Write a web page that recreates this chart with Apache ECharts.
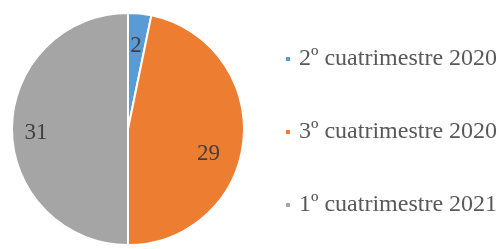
<!DOCTYPE html>
<html><head><meta charset="utf-8">
<script src="https://cdn.jsdelivr.net/npm/echarts@6/dist/echarts.min.js"></script>
<style>html,body{margin:0;padding:0;background:#fff}#c{width:502px;height:249px}</style>
</head><body><div id="c"></div>
<script>
const categories = ['2º cuatrimestre 2020', '3º cuatrimestre 2020', '1º cuatrimestre 2021'];
const values = [2, 29, 31];
const colors = ['#5B9BD5', '#ED7D31', '#A5A5A5'];
const labelShift = [[-1, 5], [-8, 16], [-3, 4]];

const data = categories.map((n, i) => ({ name: n, value: values[i], itemStyle: { color: colors[i] } }));
const chart = echarts.init(document.getElementById('c'), null, { renderer: 'canvas' });
chart.setOption({
  animation: false,
  backgroundColor: '#fff',
  legend: {
    orient: 'vertical',
    left: 279,
    top: 42,
    itemGap: 49,
    icon: 'rect',
    itemWidth: 6,
    itemHeight: 6,
    data: categories,
    textStyle: { fontFamily: 'Liberation Serif', fontSize: 24, color: '#595959', padding: [0, 0, 0, 3] }
  },
  series: [
    {
      type: 'pie',
      center: [128, 129],
      radius: [0, 116],
      startAngle: 90,
      clockwise: true,
      label: { show: false },
      labelLine: { show: false },
      itemStyle: { borderColor: '#fff', borderWidth: 2 },
      emphasis: { disabled: true },
      data: data
    },
    {
      type: 'pie',
      center: [128, 129],
      radius: [0, 172],
      startAngle: 90,
      clockwise: true,
      silent: true,
      itemStyle: { color: 'rgba(0,0,0,0)' },
      label: {
        show: true,
        position: 'inside',
        formatter: '{c}',
        fontFamily: 'Liberation Serif',
        fontSize: 23,
        color: '#404040'
      },
      labelLine: { show: false },
      emphasis: { disabled: true },
      data: values.map((v, i) => ({ name: categories[i], value: v, label: { offset: labelShift[i] } }))
    }
  ]
});
</script></body></html>
